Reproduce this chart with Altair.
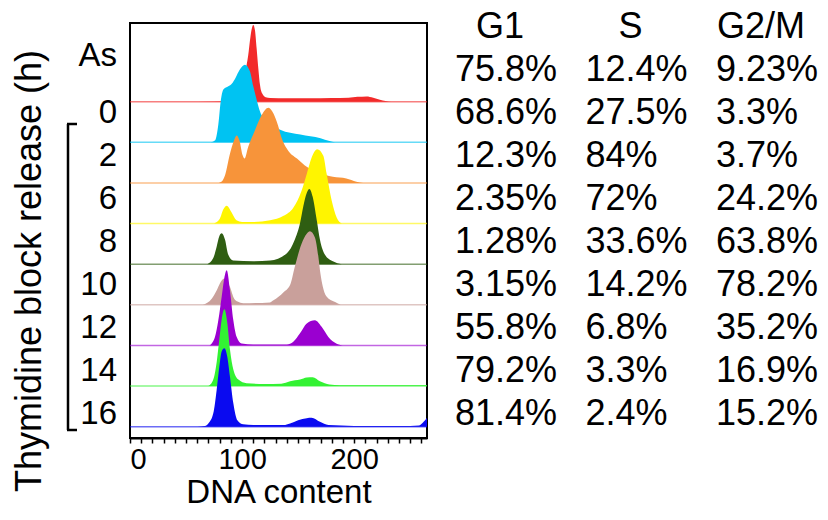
import altair as alt
import pandas as pd

FONT = "Liberation Sans, Arial, sans-serif"

# ---- data -------------------------------------------------------------
row_labels = ["As", "0", "2", "6", "8", "10", "12", "14", "16"]
colors = ["#F22A2A", "#00C3F2", "#F7943A", "#FFF500", "#2F5E12",
          "#C9A09B", "#9A00D0", "#33F233", "#0A0AF0"]

# DNA content positions and cell counts (relative units)
as_dna = [60, 90, 95, 100, 102, 104, 105.5, 107, 108.5, 110, 111.5, 113, 114.5, 116, 118, 121, 125, 140, 160, 180, 195, 203, 211, 217, 223, 228, 233]
as_cnt = [0, 0.02, 0.08, 0.35, 0.6, 0.9, 1.15, 1.5, 1.78, 1.89, 1.76, 1.31, 0.82, 0.41, 0.2, 0.11, 0.09, 0.085, 0.085, 0.09, 0.1, 0.12, 0.13, 0.1, 0.05, 0.02, 0]

h0_dna = [72, 76, 78.8, 80.9, 83.3, 87.7, 91, 94, 98, 102.5, 107, 110, 113, 116, 122, 134, 152, 170, 178, 183]
h0_cnt = [0, 0.05, 0.44, 1.0, 1.3, 1.38, 1.45, 1.58, 1.79, 1.91, 1.75, 1.38, 1.05, 0.76, 0.52, 0.31, 0.19, 0.1, 0.03, 0]

h2_dna = [79, 82, 84.8, 89.2, 92.2, 95.2, 97.6, 100.5, 102.2, 105.5, 111.5, 117.5, 123.5, 128, 132, 135, 141, 149, 158, 167, 181, 193, 202, 208]
h2_cnt = [0, 0.04, 0.19, 0.72, 1.0, 1.17, 1.05, 0.68, 0.6, 0.89, 1.3, 1.67, 1.85, 1.71, 1.42, 1.13, 0.8, 0.6, 0.39, 0.27, 0.15, 0.11, 0.03, 0]

h6_dna = [75, 80, 83.3, 86.3, 88.5, 90.7, 95, 100, 110, 125, 137, 145.7, 153, 157.7, 162, 167, 172.5, 175.5, 180, 184.4, 189]
h6_cnt = [0, 0.11, 0.35, 0.44, 0.38, 0.27, 0.08, 0.04, 0.04, 0.08, 0.19, 0.39, 0.8, 1.22, 1.62, 1.83, 1.67, 1.22, 0.56, 0.15, 0]

h8_dna = [69, 74.3, 77.3, 79.6, 81.8, 84.8, 87.7, 92, 110, 125, 140, 147, 151.7, 154.6, 157.7, 160, 163, 166.6, 169.5, 174, 181, 189]
h8_cnt = [0, 0.15, 0.43, 0.68, 0.76, 0.6, 0.23, 0.09, 0.07, 0.09, 0.27, 0.6, 1.01, 1.42, 1.75, 1.85, 1.66, 1.09, 0.6, 0.23, 0.07, 0]

h10_dna = [65, 72.9, 77.3, 80.3, 84, 89, 93, 96, 101, 125, 128, 137, 143, 147, 153, 157.7, 160.6, 165, 168, 170, 172, 175, 183, 188]
h10_cnt = [0, 0.15, 0.35, 0.53, 0.65, 0.45, 0.15, 0.08, 0.04, 0.06, 0.11, 0.31, 0.5, 0.93, 1.5, 1.75, 1.81, 1.66, 1.2, 0.75, 0.45, 0.22, 0.07, 0]

h12_dna = [71, 75.8, 78.8, 81.8, 83.8, 86.3, 89.2, 92.2, 95.2, 99.6, 110, 140, 145.7, 151.7, 157.7, 165, 171, 177, 184, 190]
h12_cnt = [0, 0.21, 0.62, 1.2, 1.6, 1.85, 1.35, 0.62, 0.21, 0.05, 0.025, 0.025, 0.09, 0.3, 0.54, 0.62, 0.46, 0.21, 0.05, 0]

h14_dna = [70, 74.3, 77.3, 79.7, 81.8, 84.2, 86.8, 89.2, 92.2, 96.7, 104, 120, 135, 142.8, 151.7, 157.7, 163, 169.5, 178, 187, 265]
h14_cnt = [0, 0.16, 0.58, 1.15, 1.64, 1.89, 1.56, 0.9, 0.41, 0.16, 0.07, 0.05, 0.06, 0.12, 0.16, 0.21, 0.22, 0.12, 0.04, 0.02, 0.02]

h16_dna = [60, 66.9, 69.9, 74.3, 77.3, 79.7, 81.8, 84.2, 86.8, 89.2, 92.2, 95.8, 101, 110, 137, 142.8, 150, 157.7, 162, 169.5, 177, 200, 250, 258, 262, 265]
h16_cnt = [0, 0.02, 0.08, 0.33, 0.9, 1.48, 1.85, 1.93, 1.72, 1.23, 0.58, 0.16, 0.06, 0.04, 0.04, 0.08, 0.16, 0.21, 0.22, 0.12, 0.04, 0.02, 0.02, 0.03, 0.12, 0.22]

phases = ["G1", "S", "G2/M"]
g1_pct = ["75.8%", "68.6%", "12.3%", "2.35%", "1.28%", "3.15%", "55.8%", "79.2%", "81.4%"]
s_pct = ["12.4%", "27.5%", "84%", "72%", "33.6%", "14.2%", "6.8%", "3.3%", "2.4%"]
g2m_pct = ["9.23%", "3.3%", "3.7%", "24.2%", "63.8%", "78.2%", "35.2%", "16.9%", "15.2%"]

y_title = "Thymidine block release (h)"
x_title = "DNA content"

dna_lists = [as_dna, h0_dna, h2_dna, h6_dna, h8_dna, h10_dna, h12_dna, h14_dna, h16_dna]
cnt_lists = [as_cnt, h0_cnt, h2_cnt, h6_cnt, h8_cnt, h10_cnt, h12_cnt, h14_cnt, h16_cnt]

# ---- ridge (histogram) panel ----------------------------------------
n = len(row_labels)
xscale = alt.Scale(domain=[0, 265], nice=False, zero=False)
yscale = alt.Scale(domain=[-0.278, 9.937], nice=False, zero=False)

xaxis = alt.Axis(
    values=list(range(0, 261, 10)),
    labelExpr="datum.value % 100 === 0 ? datum.label : ''",
    tickSize=5, tickColor="black", tickWidth=1.5,
    domainColor="black", domainWidth=2,
    labelFontSize=29, labelFont=FONT, labelColor="black", labelPadding=2,
    labelFlush=True, labelOverlap=False,
    title=x_title, titleFontSize=33, titleFont=FONT, titleFontWeight="normal",
    titleColor="black", titlePadding=2, grid=False,
)

layers = []
for i, lab in enumerate(row_labels):
    base = n - 1 - i
    sub = pd.DataFrame({
        "sample": lab,
        "dna": dna_lists[i],
        "top": [base + c for c in cnt_lists[i]],
        "base": base,
    })
    area = alt.Chart(sub).mark_area(color=colors[i], interpolate="monotone").encode(
        x=alt.X("dna:Q", scale=xscale, axis=xaxis),
        y=alt.Y("top:Q", scale=yscale, axis=None),
        y2="base:Q",
    )
    rule = alt.Chart(pd.DataFrame({"base": [base]})).mark_rule(
        color=colors[i], strokeWidth=1.5, opacity=0.6
    ).encode(y=alt.Y("base:Q", scale=yscale, axis=None))
    layers += [area, rule]

ridge = alt.layer(*layers).properties(
    width=297, height=415,
    view=alt.ViewBackground(stroke="black", strokeWidth=2),
)

# ---- left panel: row labels, bracket, rotated title ------------------
rowscale = alt.Scale(domain=[-1.1, 8.55], nice=False, zero=False, reverse=True)
lab_df = pd.DataFrame({"label": row_labels, "row": list(range(n))})

labels_main = alt.Chart(lab_df.iloc[1:]).mark_text(
    align="right", baseline="middle", fontSize=33, font=FONT, color="black"
).encode(x=alt.value(117), y=alt.Y("row:Q", scale=rowscale, axis=None), text="label:N")

labels_as = alt.Chart(lab_df.iloc[:1]).mark_text(
    align="right", baseline="middle", fontSize=33, font=FONT, color="black", dy=-14
).encode(x=alt.value(117), y=alt.Y("row:Q", scale=rowscale, axis=None), text="label:N")

title_txt = alt.Chart(pd.DataFrame({"t": [y_title]})).mark_text(
    angle=270, align="center", baseline="middle", fontSize=36, font=FONT, color="black"
).encode(x=alt.value(30), y=alt.value(248), text="t:N")

one = pd.DataFrame({"a": [0]})
br_v = alt.Chart(one).mark_rule(color="black", strokeWidth=2.5).encode(
    x=alt.value(68), y=alt.value(101), y2=alt.value(407))
br_t = alt.Chart(one).mark_rule(color="black", strokeWidth=2.5).encode(
    x=alt.value(67), x2=alt.value(77), y=alt.value(101))
br_b = alt.Chart(one).mark_rule(color="black", strokeWidth=2.5).encode(
    x=alt.value(67), x2=alt.value(77), y=alt.value(407))

left = alt.layer(title_txt, br_v, br_t, br_b, labels_as, labels_main).properties(
    width=130, height=415, view=alt.ViewBackground(strokeOpacity=0)
)

# ---- right panel: percentage table ----------------------------------
tab_rows = []
for r in range(n):
    for ph, vals in zip(phases, [g1_pct, s_pct, g2m_pct]):
        tab_rows.append({"row": r, "phase": ph, "value": vals[r]})
tab_df = pd.DataFrame(tab_rows)
head_df = pd.DataFrame({"phase": phases, "row": -1})

xcol = alt.Scale(type="point", domain=phases, padding=0.2146)

vals_txt = alt.Chart(tab_df).mark_text(
    align="left", baseline="middle", fontSize=36, font=FONT, color="black"
).encode(
    x=alt.X("phase:N", scale=xcol, axis=None),
    y=alt.Y("row:Q", scale=rowscale, axis=None),
    text="value:N",
)
head_txt = alt.Chart(head_df).mark_text(
    align="center", baseline="middle", fontSize=36, font=FONT, color="black", dx=45
).encode(
    x=alt.X("phase:N", scale=xcol, axis=None),
    y=alt.Y("row:Q", scale=rowscale, axis=None),
    text="phase:N",
)
table = alt.layer(head_txt, vals_txt).properties(
    width=317, height=415, view=alt.ViewBackground(strokeOpacity=0)
)

chart = alt.hconcat(left, ridge, table, spacing=0, bounds="flush").properties(
    padding={"left": 0, "top": 9, "right": 0, "bottom": 0},
    background="white",
)

chart.save("out.html", embed_options={"renderer": "svg", "actions": False})
